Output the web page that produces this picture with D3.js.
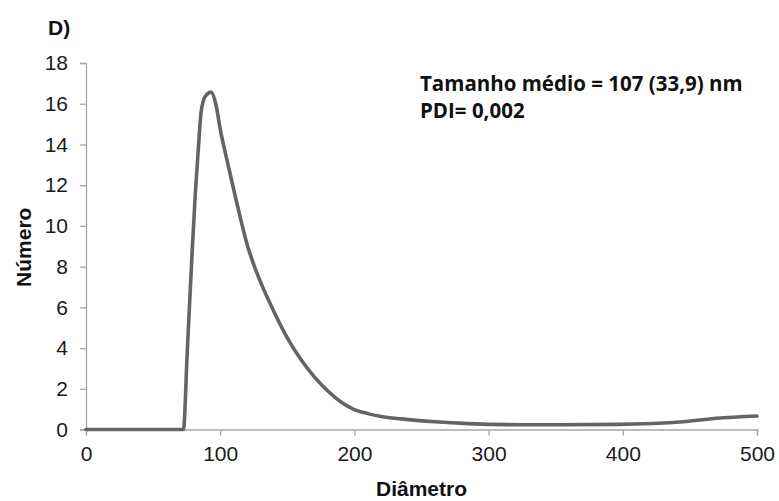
<!DOCTYPE html>
<html>
<head>
<meta charset="utf-8">
<script src="https://cdn.jsdelivr.net/npm/d3@7"></script>
<style>
  html, body { margin: 0; padding: 0; background: #fff; }
  svg { display: block; }
</style>
</head>
<body>
<svg id="chart" width="779" height="501"></svg>
<script>
// Size distribution by number (DLS)
const diameter = [0, 40, 72.6, 75.5, 78.9, 81.3, 83.8, 85.6, 87.5, 90, 93.2, 97, 100, 105, 110, 115, 120, 125, 130, 140, 150, 160, 170, 180, 190, 200, 210, 220, 235, 260, 285, 334, 396, 445, 470, 500];
const numberPct = [0, 0, 0, 3.9, 8.47, 11.42, 13.87, 15.5, 16.16, 16.45, 16.57, 15.9, 14.75, 13.25, 11.8, 10.4, 9.1, 8.1, 7.25, 5.8, 4.5, 3.45, 2.6, 1.9, 1.35, 0.98, 0.78, 0.64, 0.52, 0.38, 0.29, 0.23, 0.25, 0.38, 0.55, 0.66];
const xTicks = [0, 100, 200, 300, 400, 500];
const yTicks = [0, 2, 4, 6, 8, 10, 12, 14, 16, 18];

const panelLabel = "D)";
const xTitle = "Diâmetro";
const yTitle = "Número";
const noteLines = ["Tamanho médio = 107 (33,9) nm", "PDI= 0,002"];

const svg = d3.select("#chart");
const margin = { left: 86, right: 22, top: 63, bottom: 71.5 };
const W = 779, H = 501;

const x = d3.scaleLinear().domain([0, 500]).range([margin.left, W - margin.right]);
const y = d3.scaleLinear().domain([0, 18]).range([H - margin.bottom, margin.top]);

const axisColor = "#a6a6a6";
const labelFont = "'Liberation Sans', Arial, sans-serif";

// y axis
const gy = svg.append("g")
  .attr("transform", `translate(${x(0)},0)`)
  .call(d3.axisLeft(y).tickValues(yTicks).tickSize(6).tickPadding(12).tickFormat(d3.format("d")));
// x axis
const gx = svg.append("g")
  .attr("transform", `translate(0,${y(0)})`)
  .call(d3.axisBottom(x).tickValues(xTicks).tickSize(6).tickPadding(11).tickFormat(d3.format("d")));

[gx, gy].forEach(g => {
  g.select(".domain").attr("stroke", axisColor).attr("stroke-width", 1.3);
  g.selectAll(".tick line").attr("stroke", axisColor).attr("stroke-width", 1.3);
  g.selectAll(".tick text")
    .attr("fill", "#1a1a1a")
    .style("font-family", labelFont)
    .style("font-size", "21px");
});

// distribution curve
const line = d3.line()
  .x((d, i) => x(diameter[i]))
  .y(d => y(d))
  .curve(d3.curveMonotoneX);

svg.append("path")
  .datum(numberPct)
  .attr("d", line)
  .attr("fill", "none")
  .attr("stroke", "#646464")
  .attr("stroke-width", 3.6)
  .attr("stroke-linejoin", "round")
  .attr("stroke-linecap", "round");

// titles
svg.append("text")
  .attr("x", 48).attr("y", 35)
  .style("font-family", labelFont).style("font-weight", "bold").style("font-size", "21px")
  .attr("fill", "#111")
  .text(panelLabel);

svg.append("text")
  .attr("x", (x(0) + x(500)) / 2).attr("y", 496)
  .attr("text-anchor", "middle")
  .style("font-family", labelFont).style("font-weight", "bold").style("font-size", "21px")
  .attr("fill", "#111")
  .text(xTitle);

svg.append("text")
  .attr("transform", `translate(31,${(y(0) + y(18)) / 2 + 1}) rotate(-90)`)
  .attr("text-anchor", "middle")
  .style("font-family", labelFont).style("font-weight", "bold").style("font-size", "21px")
  .attr("fill", "#111")
  .text(yTitle);

// annotation
svg.append("g").selectAll("text")
  .data(noteLines)
  .join("text")
  .attr("x", 420)
  .attr("y", (d, i) => 90.5 + i * 27)
  .style("font-family", "'Open Sans', sans-serif").style("font-weight", "bold").style("font-size", "20.5px")
  .attr("fill", "#111")
  .text(d => d);
</script>
</body>
</html>
